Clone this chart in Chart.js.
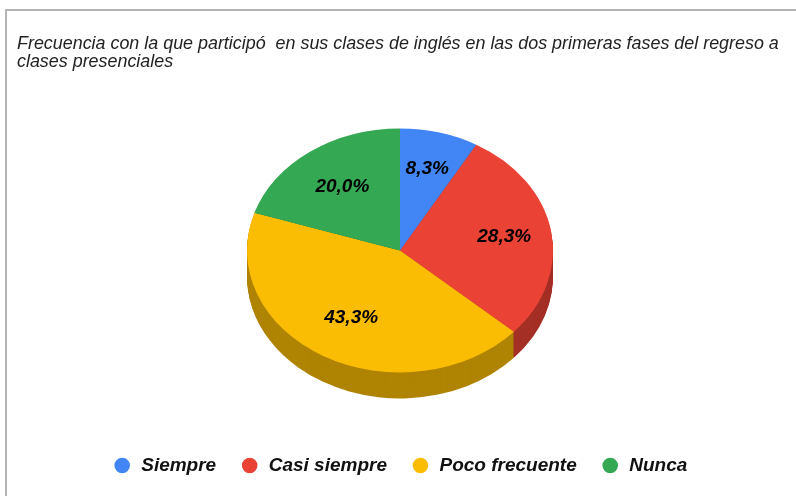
<!DOCTYPE html>
<html>
<head>
<meta charset="utf-8">
<title>Frecuencia</title>
<style>
  html, body { margin: 0; padding: 0; background: #fff; overflow: hidden; }
  #frame { position: absolute; left: 5px; top: 9px; width: 800px; height: 500px; border: 2px solid #b4b4b4; box-sizing: border-box; }
  #chart { position: absolute; left: 0; top: 0; }
</style>
</head>
<body>
<div id="frame"></div>
<canvas id="chart" width="796" height="496"></canvas>
<script src="https://cdn.jsdelivr.net/npm/chart.js@4/dist/chart.umd.min.js"></script>
<script>
const categories = ['Siempre', 'Casi siempre', 'Poco frecuente', 'Nunca'];
const percentages = [8.3, 28.3, 43.3, 20.0];
const sliceColors = ['#4285F4', '#EA4335', '#FBBC04', '#34A853'];
const sideColors = ['#2E5DAA', '#A42F25', '#AF8403', '#247540'];
const titleLines = [
  'Frecuencia con la que participó  en sus clases de inglés en las dos primeras fases del regreso a',
  'clases presenciales'
];

const tilt = 122 / 153;   // squash the circle into the tilted ellipse
const depth = 26;         // height of the pie's side wall in px

// Fake 3D: squash the pie and draw the side wall under it
const tiltPlugin = {
  id: 'tilt',
  beforeDatasetsDraw(chart) {
    const ctx = chart.ctx;
    const arcs = chart.getDatasetMeta(0).data;
    const cx = arcs[0].x, cy = arcs[0].y;
    ctx.save();
    ctx.translate(cx, cy);
    ctx.scale(1, tilt);
    ctx.translate(-cx, -cy);
    for (let d = depth; d > 0; d--) {
      arcs.forEach((a, i) => {
        ctx.fillStyle = sideColors[i];
        ctx.beginPath();
        ctx.moveTo(a.x, a.y + d / tilt);
        ctx.arc(a.x, a.y + d / tilt, a.outerRadius, a.startAngle, a.endAngle);
        ctx.closePath();
        ctx.fill();
      });
    }
  },
  afterDatasetsDraw(chart) {
    const ctx = chart.ctx;
    ctx.restore();
    // Percent labels, pulled in a bit more on the left half
    const arcs = chart.getDatasetMeta(0).data;
    ctx.save();
    ctx.font = 'italic bold 19px "Liberation Sans"';
    ctx.fillStyle = '#000';
    ctx.textAlign = 'center';
    ctx.textBaseline = 'middle';
    arcs.forEach((a, i) => {
      const mid = (a.startAngle + a.endAngle) / 2;
      const r = a.outerRadius * (Math.cos(mid) < 0 ? 0.64 : 0.69);
      const txt = percentages[i].toFixed(1).replace('.', ',') + '%';
      ctx.fillText(txt, a.x + Math.cos(mid) * r, a.y + Math.sin(mid) * r * tilt);
    });
    ctx.restore();
  }
};

new Chart(document.getElementById('chart'), {
  type: 'pie',
  data: {
    labels: categories,
    datasets: [{
      data: percentages,
      backgroundColor: sliceColors,
      borderWidth: 0,
      radius: 153
    }]
  },
  options: {
    responsive: false,
    animation: false,
    layout: { padding: { left: 17, right: 13, top: 35, bottom: 11 } },
    plugins: {
      tooltip: { enabled: false },
      title: {
        display: true,
        text: titleLines,
        align: 'start',
        color: '#222',
        font: { family: '"Liberation Sans"', size: 17.9, style: 'italic', weight: 'normal', lineHeight: 1.0 },
        padding: { top: 0, bottom: -2 }
      },
      legend: {
        position: 'bottom',
        labels: {
          usePointStyle: true,
          pointStyle: 'circle',
          boxHeight: 11,
          padding: 24,
          color: '#111',
          font: { family: '"Liberation Sans"', size: 19, style: 'italic', weight: 'bold' }
        }
      }
    }
  },
  plugins: [tiltPlugin]
});
</script>
</body>
</html>
